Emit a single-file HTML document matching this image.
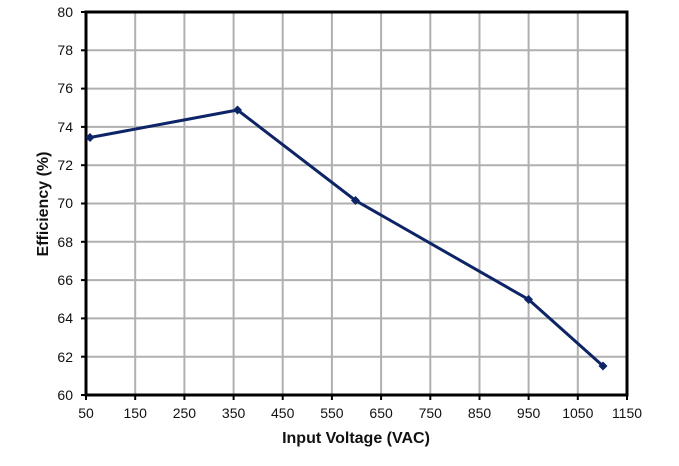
<!DOCTYPE html>
<html><head><style>body{margin:0;background:#fff}</style></head><body>
<svg width="679" height="461" xmlns="http://www.w3.org/2000/svg" font-family="Liberation Sans, sans-serif">
<rect width="679" height="461" fill="#fff"/>
<g stroke="#b0b0b0" stroke-width="2">
<line x1="135.2" y1="12" x2="135.2" y2="395"/><line x1="184.4" y1="12" x2="184.4" y2="395"/><line x1="233.6" y1="12" x2="233.6" y2="395"/><line x1="282.7" y1="12" x2="282.7" y2="395"/><line x1="331.9" y1="12" x2="331.9" y2="395"/><line x1="381.1" y1="12" x2="381.1" y2="395"/><line x1="430.3" y1="12" x2="430.3" y2="395"/><line x1="479.5" y1="12" x2="479.5" y2="395"/><line x1="528.6" y1="12" x2="528.6" y2="395"/><line x1="577.8" y1="12" x2="577.8" y2="395"/>
<line x1="86" y1="50.3" x2="627" y2="50.3"/><line x1="86" y1="88.6" x2="627" y2="88.6"/><line x1="86" y1="126.9" x2="627" y2="126.9"/><line x1="86" y1="165.2" x2="627" y2="165.2"/><line x1="86" y1="203.5" x2="627" y2="203.5"/><line x1="86" y1="241.8" x2="627" y2="241.8"/><line x1="86" y1="280.1" x2="627" y2="280.1"/><line x1="86" y1="318.4" x2="627" y2="318.4"/><line x1="86" y1="356.7" x2="627" y2="356.7"/>
</g>
<rect x="86" y="12" width="541" height="383" fill="none" stroke="#000" stroke-width="3"/>
<g stroke="#000" stroke-width="2">
<line x1="81" y1="12" x2="86" y2="12"/><line x1="81" y1="50.3" x2="86" y2="50.3"/><line x1="81" y1="88.6" x2="86" y2="88.6"/><line x1="81" y1="126.9" x2="86" y2="126.9"/><line x1="81" y1="165.2" x2="86" y2="165.2"/><line x1="81" y1="203.5" x2="86" y2="203.5"/><line x1="81" y1="241.8" x2="86" y2="241.8"/><line x1="81" y1="280.1" x2="86" y2="280.1"/><line x1="81" y1="318.4" x2="86" y2="318.4"/><line x1="81" y1="356.7" x2="86" y2="356.7"/><line x1="81" y1="395" x2="86" y2="395"/>
<line x1="86" y1="395" x2="86" y2="400"/><line x1="135.2" y1="395" x2="135.2" y2="400"/><line x1="184.4" y1="395" x2="184.4" y2="400"/><line x1="233.6" y1="395" x2="233.6" y2="400"/><line x1="282.7" y1="395" x2="282.7" y2="400"/><line x1="331.9" y1="395" x2="331.9" y2="400"/><line x1="381.1" y1="395" x2="381.1" y2="400"/><line x1="430.3" y1="395" x2="430.3" y2="400"/><line x1="479.5" y1="395" x2="479.5" y2="400"/><line x1="528.6" y1="395" x2="528.6" y2="400"/><line x1="577.8" y1="395" x2="577.8" y2="400"/><line x1="627" y1="395" x2="627" y2="400"/>
</g>
<g font-size="14" fill="#111" text-anchor="end">
<text x="73" y="17">80</text><text x="73" y="55">78</text><text x="73" y="93">76</text><text x="73" y="132">74</text><text x="73" y="170">72</text><text x="73" y="208">70</text><text x="73" y="247">68</text><text x="73" y="285">66</text><text x="73" y="323">64</text><text x="73" y="362">62</text><text x="73" y="400">60</text>
</g>
<g font-size="14" fill="#111" text-anchor="middle">
<text x="86" y="418">50</text><text x="135.2" y="418">150</text><text x="184.4" y="418">250</text><text x="233.6" y="418">350</text><text x="282.7" y="418">450</text><text x="331.9" y="418">550</text><text x="381.1" y="418">650</text><text x="430.3" y="418">750</text><text x="479.5" y="418">850</text><text x="528.6" y="418">950</text><text x="577.8" y="418">1050</text><text x="627" y="418">1150</text>
</g>
<text x="356" y="443" font-size="16" font-weight="bold" text-anchor="middle" fill="#111">Input Voltage (VAC)</text>
<text transform="translate(48,204) rotate(-90)" font-size="16" font-weight="bold" text-anchor="middle" fill="#111">Efficiency (%)</text>
<polyline points="90,137.5 237.5,110 355.5,200.5 528.6,299.5 603,366" fill="none" stroke="#0d2466" stroke-width="3"/>
<g fill="#0d2466">
<polygon points="90,133 94.5,137.5 90,142 85.5,137.5"/><polygon points="237.5,105.5 242,110 237.5,114.5 233,110"/><polygon points="355.5,196 360,200.5 355.5,205 351,200.5"/><polygon points="528.6,295 533,299.5 528.6,304 524,299.5"/><polygon points="603,361.5 607.5,366 603,370.5 598.5,366"/>
</g>
</svg>
</body></html>
